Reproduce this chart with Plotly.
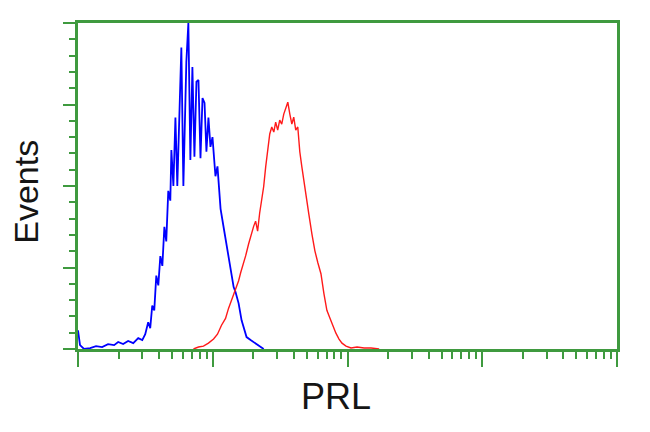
import plotly.graph_objects as go

# log10 fluorescence intensity (decades) and event counts
blue_log = [0.0, 0.015, 0.045, 0.09, 0.134, 0.179, 0.223, 0.268, 0.298, 0.335, 0.372, 0.41,
            0.447, 0.477, 0.499, 0.521, 0.536, 0.551, 0.566, 0.581, 0.596, 0.611, 0.626, 0.641,
            0.655, 0.67, 0.685, 0.693, 0.708, 0.723, 0.737, 0.752, 0.767, 0.782, 0.797, 0.804,
            0.819, 0.834, 0.849, 0.864, 0.879, 0.894, 0.909, 0.924, 0.939, 0.953, 0.968, 0.983,
            0.998, 1.02, 1.035, 1.058, 1.08, 1.102, 1.117, 1.132, 1.155, 1.169, 1.192, 1.214,
            1.236, 1.251, 1.281, 1.318, 1.348, 1.378]
blue_counts = [11.5, 2.4, 0, 0.6, 1.8, 1.2, 3.0, 2.4, 4.3, 3.0, 4.9, 3.6,
               6.7, 5.5, 9.1, 16.4, 12.8, 26.7, 23.7, 45, 39, 57, 51, 75,
               66, 97, 91, 122, 100, 142, 100, 145, 185, 100, 151, 176,
               200, 116, 173, 118, 164, 165, 117, 154, 151, 121, 142, 124,
               130, 106, 112, 86, 75, 64, 57, 50, 38, 35, 28, 17.6,
               11.5, 7.3, 5.5, 3.6, 1.8, 0]

red_log = [0.857, 0.894, 0.931, 0.968, 1.006, 1.035, 1.065, 1.095, 1.117, 1.147, 1.169, 1.192,
           1.207, 1.229, 1.244, 1.266, 1.281, 1.304, 1.318, 1.333, 1.348, 1.363, 1.378, 1.393,
           1.408, 1.423, 1.438, 1.453, 1.467, 1.482, 1.497, 1.512, 1.527, 1.542, 1.557, 1.572,
           1.587, 1.601, 1.616, 1.631, 1.646, 1.661, 1.676, 1.691, 1.713, 1.736, 1.758, 1.78,
           1.803, 1.825, 1.847, 1.87, 1.892, 1.914, 1.937, 1.959, 1.989, 2.026, 2.071, 2.123,
           2.175, 2.235]
red_counts = [0, 1.2, 1.8, 3.6, 6.1, 9.1, 14.6, 18.8, 24.9, 31.6, 37.7, 41.9,
              46.8, 52.3, 57.1, 64.4, 69.3, 75.4, 78.4, 72.3, 83.3, 90.6, 99.7, 111.9,
              122.2, 131.9, 136.2, 133.1, 139.2, 134.3, 140.4, 138, 144.1, 148.3, 151.4, 144.1,
              138, 142.2, 134.3, 136.2, 121, 111.9, 102.7, 93.6, 82.7, 70.5, 60.2, 52.9,
              46.2, 34, 23.7, 18.8, 14, 9.7, 6.1, 3.6, 1.8, 0.6, 1.2, 0.6,
              0.6, 0]

x_major = [1, 10, 100, 1000, 10000]
x_minor = [m * d for d in [1, 10, 100, 1000] for m in range(2, 10)]
y_major = [0, 50, 100, 150, 200]

x_title = "PRL"
y_title = "Events"

green = "#3f9a3f"

fig = go.Figure()
fig.add_trace(go.Scatter(x=[10 ** v for v in blue_log], y=blue_counts, mode="lines",
                         line=dict(color="#0000ff", width=1.8), showlegend=False))
fig.add_trace(go.Scatter(x=[10 ** v for v in red_log], y=red_counts, mode="lines",
                         line=dict(color="#ff1a1a", width=1.4), showlegend=False))

fig.update_xaxes(type="log", range=[0, 4], showgrid=False, zeroline=False,
                 showline=True, linecolor=green, linewidth=2.5, mirror=True,
                 tickmode="array", tickvals=x_major, ticktext=[""] * len(x_major),
                 ticks="outside", ticklen=15, tickwidth=2, tickcolor=green,
                 minor=dict(tickmode="array", tickvals=x_minor, ticks="outside",
                            ticklen=7, tickwidth=2, tickcolor=green, showgrid=False))
fig.update_yaxes(range=[0, 200], showgrid=False, zeroline=False,
                 showline=True, linecolor=green, linewidth=2.5, mirror=True,
                 tickmode="array", tickvals=y_major, ticktext=[""] * len(y_major),
                 ticks="outside", ticklen=12, tickwidth=2, tickcolor=green,
                 minor=dict(dtick=10, ticks="outside", ticklen=6, tickwidth=2,
                            tickcolor=green, showgrid=False))

fig.add_annotation(text=x_title, xref="paper", yref="paper", x=0.479, y=-0.145,
                   showarrow=False, font=dict(family="Liberation Sans, Arial", size=36, color="#151515"),
                   xanchor="center", yanchor="middle")
fig.add_annotation(text=y_title, xref="paper", yref="paper", x=-0.098, y=0.483,
                   showarrow=False, textangle=-90,
                   font=dict(family="Liberation Sans, Arial", size=34, color="#151515"),
                   xanchor="center", yanchor="middle")

fig.update_layout(width=650, height=432, plot_bgcolor="white", paper_bgcolor="white",
                  margin=dict(l=70, r=41, t=12, b=91))

fig.write_html("out.html")
